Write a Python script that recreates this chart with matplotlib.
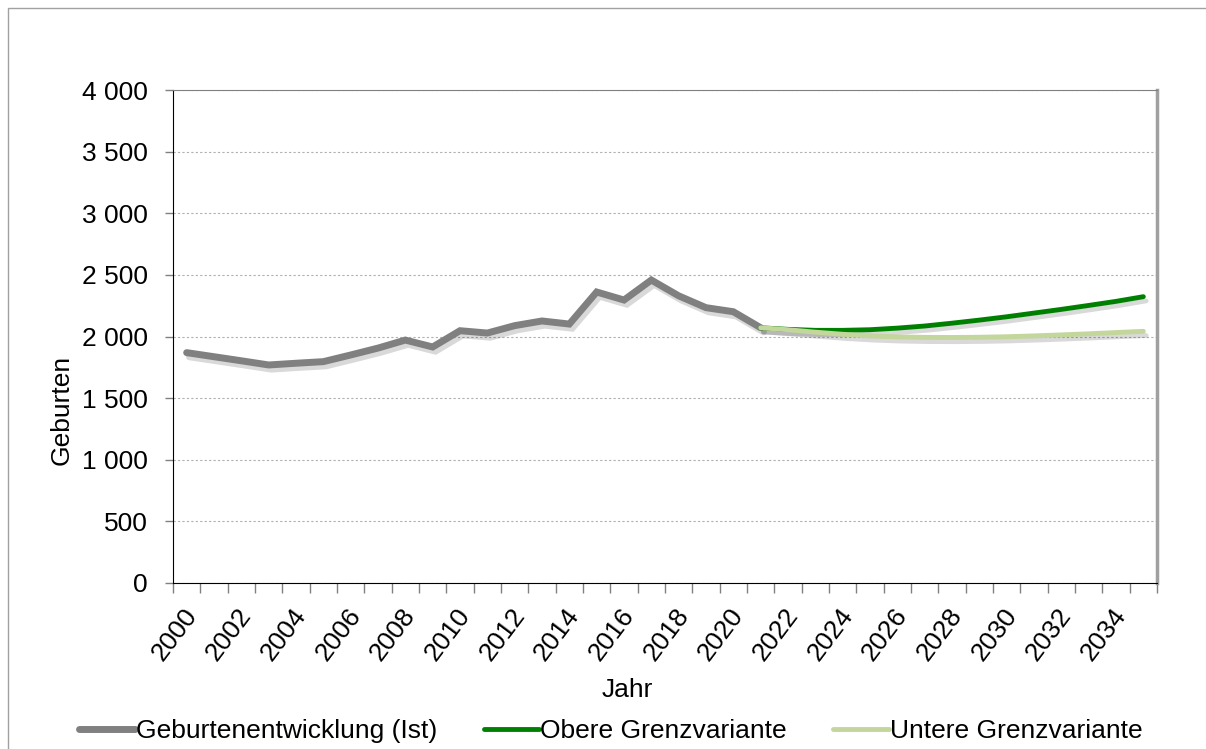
import matplotlib
matplotlib.use('Agg')
import matplotlib.pyplot as plt
import matplotlib.patheffects as pe
from matplotlib.lines import Line2D
from matplotlib.patches import Rectangle
import numpy as np

plt.rcParams['font.family'] = ['Liberation Sans', 'DejaVu Sans']

years = list(range(2000, 2036))

# Ist-Werte 2000-2021
ist_years = list(range(2000, 2022))
ist_values = [1869, 1836, 1803, 1769, 1783, 1796, 1850, 1906, 1971, 1915, 2047,
              2028, 2088, 2126, 2101, 2361, 2296, 2458, 2330, 2234, 2201, 2071]

# Prognose 2021-2035
prog_years = list(range(2021, 2036))
obere = [2071, 2058, 2050, 2050, 2055, 2068, 2085, 2108, 2133, 2160, 2190,
         2220, 2252, 2285, 2323]
untere = [2071, 2055, 2035, 2018, 2005, 1997, 1993, 1992, 1994, 1998, 2005,
          2013, 2022, 2032, 2042]

series_names = ['Geburtenentwicklung (Ist)', 'Obere Grenzvariante', 'Untere Grenzvariante']
series_colors = ['#808080', '#008000', '#c3d69b']
tick_labels = [str(y) for y in years[::2]]

fig = plt.figure(figsize=(12.06, 7.49), dpi=100)
ax = fig.add_axes([173 / 1206, 1 - 583 / 749, (1157 - 173) / 1206, (583 - 90) / 749])

# outer border
fig.patches.append(Rectangle((8 / 1206, -0.1), 1.2, 1 - 8 / 749 + 0.1, transform=fig.transFigure,
                             fill=False, edgecolor='#a0a0a0', linewidth=1))

shadow = [pe.SimpleLineShadow(offset=(2, -3), shadow_color='black', alpha=0.15), pe.Normal()]

def pos(ys):
    return [years.index(y) for y in ys]

ax.plot(pos(ist_years), ist_values, color=series_colors[0], linewidth=5, solid_capstyle='round',
        solid_joinstyle='miter', path_effects=shadow, zorder=3)
ax.plot(pos(prog_years), obere, color=series_colors[1], linewidth=3.5, solid_capstyle='round',
        path_effects=shadow, zorder=4)
ax.plot(pos(prog_years), untere, color=series_colors[2], linewidth=3.5, solid_capstyle='round',
        path_effects=shadow, zorder=5)

ax.set_xlim(-0.5, len(years) - 0.5)
ax.set_ylim(0, 4000)
ax.set_yticks(np.arange(0, 4001, 500))
ax.set_yticklabels([f'{v:,}'.replace(',', ' ') for v in range(0, 4001, 500)], fontsize=19)
ax.yaxis.grid(True, linestyle=(0, (2, 2)), color='#b0b0b0', linewidth=0.8)
ax.set_axisbelow(True)

# labels sit a little right of the category centre, like in Excel
ax.set_xticks(np.array(pos(years[::2])) + 0.2)
ax.set_xticklabels(tick_labels, rotation=53, ha='right', va='center', rotation_mode='anchor',
                   fontsize=19)
ax.set_xticks(np.arange(-0.5, len(years), 1), minor=True)
ax.tick_params(axis='x', which='major', length=0, pad=20)
ax.tick_params(axis='x', which='minor', length=7, width=1, color='#808080', direction='out')
ax.tick_params(axis='y', length=6, width=1, color='#808080', pad=12)

ax.spines['left'].set_color('black')
ax.spines['bottom'].set_color('black')
ax.spines['top'].set_color('#808080')
ax.spines['right'].set_color('#a0a0a0')
ax.spines['right'].set_linewidth(2.5)

fig.text(62 / 1206, 1 - 410 / 749, 'Geburten', rotation=90, ha='center', va='center', fontsize=19)
fig.text(627 / 1206, 1 - 690 / 749, 'Jahr', ha='center', va='center', fontsize=19)

handles = [Line2D([], [], color=c, linewidth=lw, solid_capstyle='round')
           for c, lw in zip(series_colors, [5, 3.5, 3.5])]
fig.legend(handles, series_names, loc='center', bbox_to_anchor=(611 / 1206, 1 - 731 / 749),
           ncol=3, frameon=False, fontsize=19, handlelength=2.1, handletextpad=0.05,
           columnspacing=1.75)

fig.savefig('out.png', dpi=100)
